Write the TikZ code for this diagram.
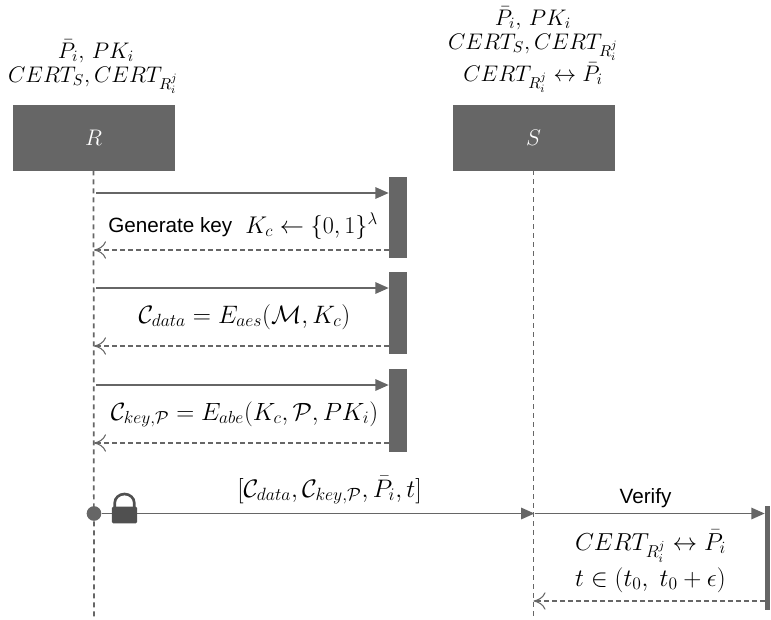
\RequirePackage{fix-cm}
\documentclass[tikz,border=0pt]{standalone}
\usepackage[no-math]{fontspec}
\usepackage{amsmath}
\newfontfamily\lib{Liberation Sans}
\usetikzlibrary{arrows.meta}
\definecolor{dk}{HTML}{666666}
\definecolor{lk}{HTML}{505050}
\tikzset{
 actor/.style={draw=dk,fill=dk,minimum width=120.75pt,minimum height=48.75pt,inner sep=0,text=white},
 bar/.style={draw=none,fill=dk,inner sep=0,minimum width=13.5pt},
 life/.style={draw=dk,line width=1.3pt,dash pattern=on 3.75pt off 3pt},
 call/.style={draw=dk,line width=1.4pt,-{Triangle[length=10pt,width=8.5pt]}},
 ret/.style={draw=dk,line width=1.3pt,dash pattern=on 3.75pt off 2.25pt,-{To[length=9pt,width=13pt,line width=0.8pt]}},
 toplbl/.style={inner sep=0,anchor=base,font=\fontsize{16.9}{20}\selectfont},
 lbl/.style={inner sep=0,anchor=base,font=\fontsize{17.5}{22}\selectfont},
 sanslbl/.style={inner sep=0,anchor=base,font=\lib\fontsize{15.5}{18}\selectfont},
}
\begin{document}
\begin{tikzpicture}[x=0.75pt,y=-0.75pt]
\useasboundingbox (0,0) rectangle (771,619);
\node[actor] (R) at (93.5,137.5) {\fontsize{16.9}{20}\selectfont $R$};
\node[actor] (S) at (533.5,137.5) {\fontsize{16.9}{20}\selectfont $S$};
\coordinate (Rend) at (94,617);
\coordinate (Send) at (533.5,617);
\draw[life] (R.south) -- (Rend);
\draw[life] (S.south) -- (Send);
\node[bar,minimum height=60.75pt] (b1) at (398,217.5) {};
\node[bar,minimum height=61.5pt] (b2) at (398,313) {};
\node[bar,minimum height=62.25pt] (b3) at (398,410.5) {};
\node[bar,minimum width=3.75pt,minimum height=78pt] (b4) at (767.5,558) {};
\coordinate (a1) at (96,193); \coordinate (a2) at (94,250);
\coordinate (a3) at (96,288); \coordinate (a4) at (94,346);
\coordinate (a5) at (96,385); \coordinate (a6) at (94,443);
\coordinate (a7) at (94,513.5); \coordinate (a8) at (534.5,513.5);
\coordinate (a9) at (533.5,601);
\draw[call] (a1) -- (a1 -| b1.west);
\draw[ret] (a2 -| b1.west) -- (a2);
\draw[call] (a3) -- (a3 -| b2.west);
\draw[ret] (a4 -| b2.west) -- (a4);
\draw[call] (a5) -- (a5 -| b3.west);
\draw[ret] (a6 -| b3.west) -- (a6);
\node[circle,fill=dk,inner sep=0,minimum size=11pt] (dot) at (a7) {};
\draw[call] (dot) -- (a8);
\draw[call] (a8) -- (a8 -| b4.west);
\draw[ret] (a9 -| b4.west) -- (a9);
% lock
\node[fill=lk,rounded corners=1pt,inner sep=0,minimum width=19pt,minimum height=12.5pt] (lock) at (124.5,515) {};
\draw[lk,line width=2pt] (114.7,509) -- (114.7,503) arc[start angle=180,end angle=0,x radius=9.8,y radius=-9] -- (134.3,509);
% labels
\node[toplbl] (t1a) at (96,58) {$\bar{P}_i,\,PK_i$};
\node[toplbl] (t1b) at (93,82) {$CERT_S,CERT_{R_i^j}$};
\node[toplbl] (t2a) at (533,25) {$\bar{P}_i,\,PK_i$};
\node[toplbl] (t2b) at (533,49) {$CERT_S,CERT_{R_i^j}$};
\node[toplbl] (t2c) at (533,81) {$CERT_{R_i^j}\leftrightarrow\bar{P}_i$};
\node[sanslbl,anchor=base west] (t3a) at (108,232) {Generate key};
\node[lbl,anchor=base west,font=\fontsize{18.1}{24}\selectfont] (t3b) at (245,233) {$K_c\leftarrow\{0,1\}^\lambda$};
\node[lbl,font=\fontsize{18.9}{22}\selectfont] (t4) at (244.5,323) {$\mathcal{C}_{data}=E_{aes}(\mathcal{M},K_c)$};
\node[lbl,font=\fontsize{18.7}{22}\selectfont] (t5) at (244.5,420) {$\mathcal{C}_{key,\mathcal{P}}=E_{abe}(K_c,\mathcal{P},PK_i)$};
\node[lbl,font=\fontsize{19}{22}\selectfont] (t6) at (329.5,497) {$[\mathcal{C}_{data},\mathcal{C}_{key,\mathcal{P}},\bar{P}_i,t]$};
\node[sanslbl] (t7) at (645.5,503) {Verify};
\node[lbl,font=\fontsize{18.4}{24}\selectfont] (t8a) at (650.5,550) {$CERT_{R_i^j}\leftrightarrow\bar{P}_i$};
\node[lbl,font=\fontsize{18.8}{24}\selectfont] (t8b) at (650.5,586) {$t\in(t_0,\;t_0+\epsilon)$};
\end{tikzpicture}
\end{document}
